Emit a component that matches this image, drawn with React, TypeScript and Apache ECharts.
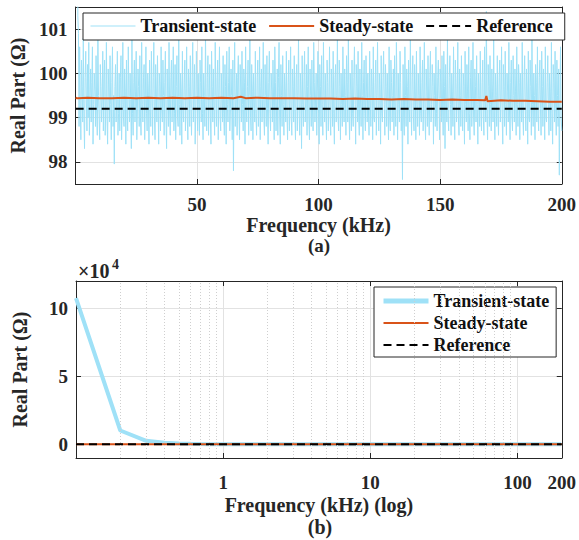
import React, { useEffect, useRef } from "react";
import * as echarts from "echarts";

// ---------- data ----------
const transientLowFreq = [0.1, 0.2, 0.3, 0.4, 0.5, 0.6, 0.7, 0.8, 0.9];
const transientLowVals = [107500, 10200, 2600, 1200, 650, 400, 260, 180, 130];

// transient-state real part, sampled every 0.25 kHz from 1 kHz to 200 kHz
const transientNoiseVals = [
  101.3, 100.9, 98.8, 100.6, 99.2, 98.5, 100.3, 99.7, 98.9, 100.8, 99.1, 98.3, 99.9, 100.5, 99.4, 98.7, 100.2, 99.0, 100.7, 98.6,
  99.5, 100.1, 98.9, 99.8, 100.6, 98.4, 99.3, 100.0, 99.6, 98.8, 100.4, 99.2, 98.6, 100.9, 99.5, 99.0, 98.5, 100.2, 99.7, 98.9,
  99.4, 100.5, 98.7, 99.9, 100.3, 98.6, 99.2, 100.7, 99.0, 98.4, 100.1, 99.6, 98.9, 100.4, 99.3, 98.5, 99.8, 100.6, 98.8, 99.5,
  97.95, 99.7, 100.2, 98.9, 99.4, 100.5, 98.6, 99.1, 100.0, 98.7, 99.9, 100.4, 98.5, 99.3, 100.7, 99.0, 98.8, 100.1, 99.6, 98.4,
  100.3, 99.2, 98.7, 100.6, 99.5, 98.9, 100.0, 99.4, 98.3, 100.8, 99.1, 98.6, 99.8, 100.3, 98.9, 99.6, 100.5, 98.5, 99.2, 100.1,
  99.7, 98.8, 100.4, 99.0, 98.6, 100.7, 99.3, 98.9, 99.9, 100.2, 98.5, 99.4, 100.6, 99.1, 98.7, 100.0, 99.6, 98.4, 100.3, 99.2,
  98.8, 100.5, 99.5, 98.6, 99.9, 100.7, 99.0, 98.5, 100.2, 99.6, 98.9, 100.4, 99.3, 98.4, 100.0, 99.7, 98.7, 100.6, 99.2, 98.9,
  100.3, 99.5, 98.6, 99.8, 100.5, 99.0, 98.3, 100.1, 99.4, 98.8, 100.7, 99.2, 98.6, 99.9, 100.3, 98.9, 99.5, 100.6, 98.7, 99.1,
  100.2, 98.5, 99.7, 100.4, 99.0, 98.8, 100.8, 99.3, 98.6, 100.0, 99.6, 98.4, 100.5, 99.2, 98.9, 99.8, 100.3, 98.7, 99.4, 100.6,
  99.0, 98.5, 100.1, 99.7, 98.8, 100.4, 99.3, 98.6, 99.9, 100.7, 98.9, 99.5, 100.2, 98.4, 99.1, 100.5, 99.6, 98.7, 100.0, 99.3,
  98.6, 100.3, 99.8, 98.9, 100.6, 99.1, 98.5, 100.0, 99.5, 98.8, 100.9, 99.3, 98.7, 99.9, 100.4, 98.6, 99.4, 100.2, 99.0, 98.4,
  100.5, 99.7, 98.9, 100.1, 99.2, 98.6, 100.7, 99.5, 98.8, 99.9, 100.3, 98.5, 99.6, 100.6, 99.0, 98.7, 100.0, 99.4, 98.9, 100.4,
  99.1, 98.6, 100.2, 99.7, 98.4, 100.5, 99.3, 98.9, 99.8, 100.6, 98.7, 99.2, 100.1, 99.5, 98.5, 100.3, 97.8, 99.6, 100.7, 98.8,
  99.4, 100.0, 98.6, 99.9, 100.4, 99.1, 98.5, 100.2, 99.6, 98.9, 100.5, 99.3, 98.7, 100.1, 99.8, 98.4, 100.6, 99.2, 98.9, 99.7,
  100.3, 98.6, 99.5, 100.8, 99.0, 98.7, 100.2, 99.6, 98.5, 100.0, 99.4, 98.9, 100.5, 99.1, 98.6, 99.9, 100.3, 98.8, 99.3, 100.6,
  98.5, 99.7, 100.1, 98.9, 99.4, 100.7, 99.0, 98.6, 100.2, 99.5, 98.8, 100.4, 99.2, 98.4, 99.8, 100.5, 99.1, 98.7, 100.0, 99.6,
  98.9, 100.3, 99.4, 98.5, 100.6, 99.8, 98.7, 99.2, 100.1, 98.6, 99.9, 100.7, 99.0, 98.4, 100.2, 99.5, 98.8, 100.4, 99.3, 98.6,
  100.0, 99.6, 98.9, 100.5, 99.1, 98.5, 99.8, 100.3, 98.7, 99.4, 100.6, 99.0, 98.6, 100.1, 99.7, 98.9, 100.4, 99.2, 98.5, 99.9,
  100.2, 98.7, 99.5, 100.8, 99.1, 98.6, 100.0, 99.6, 98.3, 100.4, 99.3, 98.8, 99.9, 100.5, 98.9, 99.4, 100.2, 98.6, 99.7, 100.6,
  99.0, 98.5, 100.1, 99.5, 98.8, 100.3, 99.2, 98.7, 100.7, 99.8, 98.9, 99.4, 100.0, 98.6, 99.6, 100.5, 99.1, 98.4, 100.2, 99.7,
  98.8, 100.4, 99.3, 98.6, 100.7, 99.5, 98.9, 100.0, 99.2, 98.5, 100.3, 99.8, 98.7, 99.4, 100.6, 99.0, 98.6, 100.1, 99.6, 98.8,
  100.5, 99.1, 98.4, 99.9, 100.2, 98.9, 99.5, 100.8, 99.0, 98.7, 100.3, 99.7, 98.5, 100.0, 99.3, 98.8, 100.6, 99.4, 98.9, 100.1,
  99.5, 98.6, 100.4, 99.8, 98.9, 100.9, 99.2, 98.5, 100.0, 99.6, 98.7, 100.3, 99.1, 98.8, 99.9, 100.6, 99.3, 98.4, 100.2, 99.7,
  98.9, 100.5, 99.0, 98.6, 100.1, 99.4, 98.8, 100.7, 99.5, 98.5, 99.8, 100.3, 99.1, 98.7, 100.4, 99.6, 98.9, 100.0, 99.2, 98.6,
  100.5, 99.4, 98.8, 100.1, 99.7, 98.5, 100.6, 99.0, 98.9, 99.8, 100.3, 98.6, 99.5, 100.7, 99.2, 98.7, 100.0, 99.6, 98.4, 100.4,
  99.1, 98.9, 99.9, 100.5, 99.3, 98.6, 100.2, 99.7, 98.8, 100.0, 99.4, 98.5, 100.6, 99.0, 98.7, 100.3, 99.8, 98.9, 99.5, 100.1,
  98.6, 100.4, 99.2, 98.8, 100.7, 99.6, 98.5, 100.0, 99.3, 98.9, 100.5, 99.8, 98.7, 99.4, 97.6, 100.2, 99.0, 98.6, 100.6, 99.5,
  98.8, 100.1, 99.7, 98.4, 100.3, 99.2, 98.9, 100.8, 99.4, 98.6, 99.9, 100.4, 99.0, 98.7, 100.2, 99.6, 98.5, 100.5, 99.3, 98.8,
  100.0, 99.5, 98.6, 100.6, 99.1, 98.9, 99.8, 100.3, 98.7, 99.4, 100.7, 99.0, 98.5, 100.1, 99.6, 98.8, 100.4, 99.2, 98.6, 99.9,
  100.5, 98.9, 99.3, 100.2, 99.7, 98.4, 100.0, 99.5, 98.8, 100.6, 99.1, 98.7, 99.9, 100.3, 99.4, 98.5, 100.1, 99.8, 98.9, 100.4,
  99.2, 98.6, 100.5, 99.7, 98.3, 100.2, 99.4, 98.9, 100.8, 99.0, 98.7, 99.9, 100.4, 99.3, 98.6, 100.0, 99.6, 98.8, 100.6, 99.1,
  98.5, 100.3, 99.8, 98.9, 99.4, 100.7, 99.0, 98.6, 100.1, 99.5, 98.8, 100.4, 99.2, 98.7, 100.0, 99.7, 98.4, 100.5, 99.3, 98.9,
  100.2, 99.6, 98.7, 100.6, 99.1, 98.5, 99.9, 100.3, 98.8, 99.4, 100.7, 99.0, 98.6, 100.1, 99.7, 98.9, 100.4, 99.3, 98.4, 100.0,
  99.5, 98.8, 100.5, 99.2, 98.7, 99.8, 100.3, 99.0, 98.6, 100.6, 99.4, 98.9, 101.4, 99.1, 98.5, 100.2, 99.7, 98.8, 100.4, 99.3,
  98.7, 100.1, 99.6, 98.9, 100.8, 99.2, 98.5, 100.0, 99.5, 98.8, 100.4, 99.1, 98.6, 99.9, 100.3, 98.9, 99.4, 100.6, 99.0, 98.4,
  100.2, 99.7, 98.8, 100.5, 99.3, 98.6, 100.0, 99.6, 98.9, 100.7, 99.2, 98.5, 99.8, 100.3, 99.0, 98.7, 100.4, 99.5, 98.9, 100.1,
  99.6, 98.6, 100.6, 99.3, 98.8, 100.2, 99.8, 98.5, 100.0, 99.4, 98.9, 100.7, 99.1, 98.6, 99.9, 100.4, 99.2, 98.7, 100.1, 99.6,
  98.4, 100.5, 99.0, 98.9, 100.3, 99.7, 98.6, 100.8, 99.3, 98.8, 100.0, 99.5, 98.5, 100.2, 99.8, 98.9, 100.6, 99.1, 98.7, 99.9,
  100.3, 99.2, 98.6, 100.5, 99.7, 98.8, 100.1, 99.4, 98.5, 100.6, 99.0, 98.9, 99.8, 100.4, 99.3, 98.6, 100.0, 99.6, 98.7, 100.7,
  99.1, 98.4, 100.2, 99.8, 98.9, 100.5, 99.2, 98.6, 100.3, 99.5, 98.8, 100.1, 97.7, 99.4, 100.6, 99.0, 98.7,
];
const noiseStartFreq = 1; // kHz
const noiseStepFreq = 0.25; // kHz

const steadyFreq = [
  0.1, 0.2, 0.3, 0.5, 1, 5, 10, 15, 20, 25, 30, 35, 40, 45, 50, 55, 60, 65, 68, 70, 75,
  80, 85, 90, 95, 100, 105, 110, 115, 120, 125, 130, 135, 140, 145, 150, 155, 160, 165,
  168.5, 169, 169.5, 175, 180, 185, 190, 195, 200,
];
const steadyVals = [
  99.45, 99.45, 99.44, 99.44, 99.44, 99.45, 99.44, 99.44, 99.45, 99.44, 99.45, 99.44, 99.45, 99.44, 99.45, 99.44, 99.45, 99.44, 99.47, 99.44, 99.45,
  99.44, 99.44, 99.44, 99.43, 99.43, 99.43, 99.42, 99.43, 99.42, 99.42, 99.41, 99.42, 99.41, 99.41, 99.40, 99.41, 99.40, 99.40,
  99.39, 99.49, 99.37, 99.39, 99.38, 99.38, 99.37, 99.36, 99.36,
];

const refFreq = [0.1, 200];
const refVals = [99.2, 99.2];

const topYTicks = [98, 99, 100, 101];
const bottomYTicks = [0, 50000, 100000];
const logMinorGrid = [0.2, 0.3, 0.4, 0.5, 0.6, 0.7, 0.8, 0.9, 2, 3, 4, 5, 6, 7, 8, 9, 20, 30, 40, 50, 60, 70, 80, 90];

const legendNames = ["Transient-state", "Steady-state", "Reference"];

// ---------- styles ----------
const FONT = '"Liberation Serif", "Times New Roman", Times, serif';
const TEXT = "#262626";
const AXIS = "#262626";
const GRID = "#e2e2e2";
const BLUE = "#9fe1f7";
const ORANGE = "#D95319";

export default function App() {
  const ref = useRef<HTMLDivElement>(null);

  useEffect(() => {
    document.body.style.margin = "0";
    if (!ref.current) return;
    const chart = echarts.init(ref.current, undefined, { renderer: "svg" });

    const noiseFreq = transientNoiseVals.map((_, i) => noiseStartFreq + noiseStepFreq * i);
    const transientFreq = transientLowFreq.concat(noiseFreq);
    const transientVals = transientLowVals.concat(transientNoiseVals);
    const transientData = transientFreq.map((f, i) => [f, transientVals[i]]);
    const steadyData = steadyFreq.map((f, i) => [f, steadyVals[i]]);
    const refData = refFreq.map((f, i) => [f, refVals[i]]);

    const labelStyle = {
      fontFamily: FONT,
      fontWeight: "bold" as const,
      fontSize: 19,
      color: TEXT,
    };
    const nameStyle = {
      fontFamily: FONT,
      fontWeight: "bold" as const,
      fontSize: 20,
      color: TEXT,
    };
    const axisLine = { show: true, onZero: false, lineStyle: { color: AXIS, width: 1 } };
    const tickIn = { show: true, inside: true, length: 5, lineStyle: { color: AXIS } };
    const splitLine = { show: true, lineStyle: { color: GRID, width: 1 } };

    const legendText = {
      fontFamily: FONT,
      fontWeight: "bold" as const,
      fontSize: 18,
      color: "#111",
    };
    const hiddenSymbol = { opacity: 0 };

    const option: any = {
      animation: false,
      backgroundColor: "#fff",
      grid: [
        { left: 74, top: 7, width: 489, height: 177, containLabel: false },
        { left: 76, top: 281, width: 488, height: 177, containLabel: false },
      ],
      legend: [
        {
          orient: "horizontal",
          left: 83,
          top: 13,
          padding: [4, 12, 5, 7],
          itemGap: 12,
          itemWidth: 45,
          itemHeight: 14,
          borderColor: AXIS,
          borderWidth: 1,
          backgroundColor: "#fff",
          textStyle: legendText,
          itemStyle: hiddenSymbol,
          data: [
            { name: legendNames[0], lineStyle: { width: 1 }, itemStyle: hiddenSymbol },
            { name: legendNames[1], itemStyle: hiddenSymbol },
            { name: legendNames[2], itemStyle: hiddenSymbol },
          ],
        },
        {
          orient: "vertical",
          left: 374,
          top: 287,
          padding: [5, 7, 3, 7],
          itemGap: 4,
          itemWidth: 45,
          itemHeight: 14,
          borderColor: AXIS,
          borderWidth: 1,
          backgroundColor: "#fff",
          textStyle: legendText,
          itemStyle: hiddenSymbol,
          data: [
            { name: legendNames[0], lineStyle: { width: 5 }, itemStyle: hiddenSymbol },
            { name: legendNames[1], itemStyle: hiddenSymbol },
            { name: legendNames[2], itemStyle: hiddenSymbol },
          ],
        },
      ],
      xAxis: [
        {
          type: "value",
          gridIndex: 0,
          min: 0,
          max: 200,
          interval: 50,
          axisLine,
          axisTick: tickIn,
          axisLabel: {
            ...labelStyle,
            margin: 11,
            formatter: (v: number) => (v === 0 ? "" : String(v)),
          },
          splitLine,
          name: "Frequency (kHz)",
          nameLocation: "middle",
          nameGap: 27,
          nameTextStyle: nameStyle,
        },
        {
          type: "value",
          gridIndex: 0,
          position: "top",
          min: 0,
          max: 200,
          interval: 50,
          axisLine,
          axisTick: tickIn,
          axisLabel: { show: false },
          splitLine: { show: false },
        },
        {
          type: "log",
          logBase: 10,
          gridIndex: 1,
          min: 0.1,
          max: 200,
          axisLine,
          axisTick: tickIn,
          axisLabel: {
            ...labelStyle,
            margin: 15,
            showMinLabel: false,
            formatter: (v: number) => (v < 0.5 ? "" : String(Math.round(v))),
          },
          splitLine,
          name: "Frequency (kHz) (log)",
          nameLocation: "middle",
          nameGap: 37,
          nameTextStyle: nameStyle,
        },
        {
          type: "log",
          logBase: 10,
          gridIndex: 1,
          position: "top",
          min: 0.1,
          max: 200,
          axisLine,
          axisTick: tickIn,
          axisLabel: { show: false },
          splitLine: { show: false },
        },
      ],
      yAxis: [
        {
          type: "value",
          gridIndex: 0,
          min: 97.5,
          max: 101.5,
          axisLine,
          axisTick: { ...tickIn, customValues: topYTicks },
          axisLabel: { ...labelStyle, margin: 8, customValues: topYTicks },
          splitLine,
          name: "Real Part (Ω)",
          nameLocation: "middle",
          nameGap: 44,
          nameTextStyle: nameStyle,
        },
        {
          type: "value",
          gridIndex: 0,
          position: "right",
          min: 97.5,
          max: 101.5,
          axisLine,
          axisTick: { ...tickIn, customValues: topYTicks },
          axisLabel: { show: false },
          splitLine: { show: false },
        },
        {
          type: "value",
          gridIndex: 1,
          min: -10000,
          max: 120000,
          axisLine,
          axisTick: { ...tickIn, customValues: bottomYTicks },
          axisLabel: {
            ...labelStyle,
            margin: 8,
            customValues: bottomYTicks,
            formatter: (v: number) => String(v / 10000),
          },
          splitLine,
          name: "Real Part (Ω)",
          nameLocation: "middle",
          nameGap: 46,
          nameTextStyle: nameStyle,
        },
        {
          type: "value",
          gridIndex: 1,
          position: "right",
          min: -10000,
          max: 120000,
          axisLine,
          axisTick: { ...tickIn, customValues: bottomYTicks },
          axisLabel: { show: false },
          splitLine: { show: false },
        },
      ],
      series: [
        // top chart
        {
          name: legendNames[0],
          type: "line",
          xAxisIndex: 0,
          yAxisIndex: 0,
          data: transientData,
          symbol: "none",
          lineStyle: { color: BLUE, width: 1 },
          itemStyle: { color: BLUE },
          clip: true,
          silent: true,
        },
        {
          name: legendNames[1],
          type: "line",
          xAxisIndex: 0,
          yAxisIndex: 0,
          data: steadyData,
          symbol: "none",
          lineStyle: { color: ORANGE, width: 2 },
          itemStyle: { color: ORANGE },
          clip: true,
          silent: true,
        },
        {
          name: legendNames[2],
          type: "line",
          xAxisIndex: 0,
          yAxisIndex: 0,
          data: refData,
          symbol: "none",
          lineStyle: { color: "#000", width: 2, type: [8, 5] },
          itemStyle: { color: "#000" },
          clip: true,
          silent: true,
        },
        // bottom chart minor log grid
        {
          type: "line",
          xAxisIndex: 2,
          yAxisIndex: 2,
          data: [],
          z: 1,
          silent: true,
          markLine: {
            silent: true,
            symbol: ["none", "none"],
            label: { show: false },
            lineStyle: { color: "#cfcfcf", width: 1, type: [1, 2] },
            data: logMinorGrid.map((v) => ({ xAxis: v })),
          },
        },
        {
          name: legendNames[0],
          type: "line",
          xAxisIndex: 2,
          yAxisIndex: 2,
          data: transientData,
          symbol: "none",
          lineStyle: { color: BLUE, width: 4 },
          itemStyle: { color: BLUE },
          clip: true,
          silent: true,
        },
        {
          name: legendNames[1],
          type: "line",
          xAxisIndex: 2,
          yAxisIndex: 2,
          data: steadyData,
          symbol: "none",
          lineStyle: { color: ORANGE, width: 2 },
          itemStyle: { color: ORANGE },
          clip: true,
          silent: true,
        },
        {
          name: legendNames[2],
          type: "line",
          xAxisIndex: 2,
          yAxisIndex: 2,
          data: refData,
          symbol: "none",
          lineStyle: { color: "#000", width: 2, type: [8, 5] },
          itemStyle: { color: "#000" },
          clip: true,
          silent: true,
        },
      ],
      graphic: [
        {
          type: "text",
          x: 319,
          y: 245,
          style: { text: "(a)", fontFamily: FONT, fontWeight: "bold", fontSize: 19, fill: TEXT, align: "center", verticalAlign: "middle" },
        },
        {
          type: "text",
          x: 320,
          y: 527,
          style: { text: "(b)", ...nameStyle, fill: TEXT, align: "center", verticalAlign: "middle" },
        },
        {
          type: "text",
          x: 78,
          y: 271,
          style: { text: "×10", fontFamily: FONT, fontWeight: "bold", fontSize: 20, fill: TEXT, align: "left", verticalAlign: "middle" },
        },
        {
          type: "text",
          x: 112,
          y: 264,
          style: { text: "4", fontFamily: FONT, fontWeight: "bold", fontSize: 14, fill: TEXT, align: "left", verticalAlign: "middle" },
        },
      ],
    };

    chart.setOption(option);
    return () => chart.dispose();
  }, []);

  return <div ref={ref} style={{ width: 579, height: 540 }} />;
}
